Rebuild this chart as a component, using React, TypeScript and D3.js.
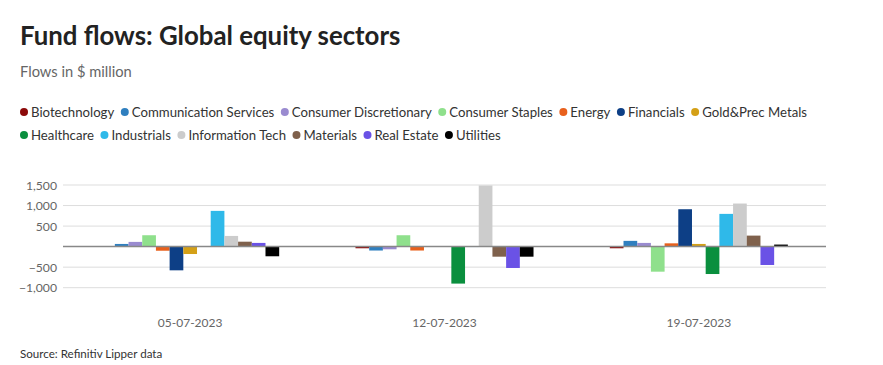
import React, { useEffect, useRef } from "react";
import * as d3 from "d3";

const dates = ["05-07-2023", "12-07-2023", "19-07-2023"];
const sectors = [
  "Biotechnology",
  "Communication Services",
  "Consumer Discretionary",
  "Consumer Staples",
  "Energy",
  "Financials",
  "Gold&Prec Metals",
  "Healthcare",
  "Industrials",
  "Information Tech",
  "Materials",
  "Real Estate",
  "Utilities",
];
const colors = [
  "#8c0a0a",
  "#2f7fbf",
  "#9a8bd0",
  "#8fe08c",
  "#e8601c",
  "#0d3f86",
  "#d4a017",
  "#0a8f3e",
  "#2fb9e9",
  "#cccccc",
  "#7f614c",
  "#6a52e6",
  "#000000",
];
// values per sector, one per date
const biotech = [0, -40, -40];
const commServices = [65, -95, 140];
const consDisc = [115, -65, 90];
const consStaples = [277, 277, -610];
const energy = [-100, -95, 80];
const financials = [-577, 0, 910];
const gold = [-180, 0, 65];
const healthcare = [0, -900, -667];
const industrials = [870, -10, 797];
const infoTech = [260, 1488, 1049];
const materials = [120, -245, 268];
const realEstate = [90, -520, -447];
const utilities = [-235, -245, 50];
const seriesValues = [
  biotech, commServices, consDisc, consStaples, energy, financials, gold,
  healthcare, industrials, infoTech, materials, realEstate, utilities,
];
const yTicks = [-1000, -500, 500, 1000, 1500];

const FONT = "Lato, 'Noto Sans', sans-serif";

export default function App() {
  const ref = useRef<SVGSVGElement>(null);
  useEffect(() => {
    const svg = d3.select(ref.current);
    svg.selectAll("*").remove();

    svg.append("text").attr("x", 20).attr("y", 45).attr("font-family", FONT)
      .attr("font-weight", 700).attr("font-size", 25.8).attr("fill", "#222")
      .text("Fund flows: Global equity sectors");
    svg.append("text").attr("x", 20).attr("y", 77).attr("font-family", FONT)
      .attr("font-size", 14.7).attr("fill", "#666").text("Flows in $ million");

    // legend
    const rows: number[][] = [[0, 1, 2, 3, 4, 5, 6], [7, 8, 9, 10, 11, 12]];
    const rowY = [112, 135];
    rows.forEach((row, ri) => {
      let x = 24;
      row.forEach((i) => {
        const g = svg.append("g");
        g.append("circle").attr("cx", x).attr("cy", rowY[ri]).attr("r", 4).attr("fill", colors[i]);
        const t = g.append("text").attr("x", x + 7).attr("y", rowY[ri] + 5)
          .attr("font-family", FONT).attr("font-size", 13.2).attr("fill", "#333").text(sectors[i]);
        const w = (t.node() as SVGTextElement).getComputedTextLength();
        x = x + 7 + w + 10.5;
      });
    });

    const x0 = d3.scaleBand<string>().domain(dates).range([63, 826]).paddingInner(0.3).paddingOuter(0.15);
    const x1 = d3.scaleBand<string>().domain(sectors).range([0, x0.bandwidth()]).padding(0);
    const y = d3.scaleLinear().domain([-1000, 1500]).range([287.7, 185]);

    const grid = svg.append("g");
    yTicks.forEach((t) => {
      grid.append("line").attr("x1", 63).attr("x2", 826).attr("y1", y(t)).attr("y2", y(t))
        .attr("stroke", "#dddddd").attr("stroke-width", 1);
      grid.append("text").attr("x", 57).attr("y", y(t) + 4.5).attr("text-anchor", "end")
        .attr("font-family", FONT).attr("font-size", 12.2).attr("fill", "#666")
        .text(d3.format(",")(t).replace("-", "\u2212"));
    });

    const bars = svg.append("g");
    dates.forEach((d, di) => {
      sectors.forEach((s, si) => {
        const v = seriesValues[si][di];
        if (v === 0) return;
        bars.append("rect")
          .attr("x", (x0(d) as number) + (x1(s) as number))
          .attr("width", x1.bandwidth())
          .attr("y", y(Math.max(0, v)))
          .attr("height", Math.abs(y(v) - y(0)))
          .attr("fill", colors[si]);
      });
    });

    svg.append("line").attr("x1", 63).attr("x2", 826).attr("y1", y(0)).attr("y2", y(0))
      .attr("stroke", "#888").attr("stroke-width", 1.5);

    dates.forEach((d) => {
      svg.append("text").attr("x", (x0(d) as number) + x0.bandwidth() / 2).attr("y", 327)
        .attr("text-anchor", "middle").attr("font-family", FONT).attr("font-size", 12)
        .attr("fill", "#666").text(d);
    });

    svg.append("text").attr("x", 20).attr("y", 358).attr("font-family", FONT)
      .attr("font-size", 11.6).attr("fill", "#333").text("Source: Refinitiv Lipper data");
  }, []);

  return (
    <svg ref={ref} width={883} height={365}
      style={{ position: "absolute", left: 0, top: 0, background: "#fff" }} />
  );
}
